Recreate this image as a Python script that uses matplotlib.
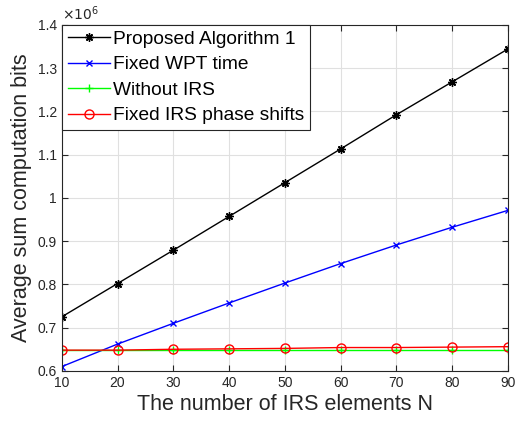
import matplotlib.pyplot as plt
from matplotlib.ticker import FuncFormatter

plt.rcParams['font.family'] = ['Liberation Sans', 'DejaVu Sans']

# numero de elementos IRS
n_irs = [10, 20, 30, 40, 50, 60, 70, 80, 90]

# bits medios (x 10^6)
proposto = [0.725, 0.802, 0.879, 0.957, 1.035, 1.113, 1.192, 1.268, 1.344]
wpt_fixo = [0.610, 0.662, 0.710, 0.757, 0.803, 0.848, 0.891, 0.932, 0.971]
sem_irs = [0.648, 0.648, 0.648, 0.648, 0.648, 0.648, 0.648, 0.648, 0.648]
fase_fixa = [0.648, 0.648, 0.650, 0.651, 0.652, 0.654, 0.654, 0.655, 0.656]

yticks = [0.6, 0.7, 0.8, 0.9, 1.0, 1.1, 1.2, 1.3, 1.4]

fig = plt.figure(figsize=(5.15, 4.21), dpi=100)
ax = fig.add_axes([0.120, 0.119, 0.866, 0.822])

ax.plot(n_irs, proposto, color='black', marker=(8, 2, 0), markersize=6, mew=1.0, lw=1, label='Proposed Algorithm 1')
ax.plot(n_irs, wpt_fixo, color='blue', marker='x', markersize=5, lw=1, label='Fixed WPT time')
ax.plot(n_irs, sem_irs, color='#00ff00', marker='+', markersize=6, lw=1, label='Without IRS')
ax.plot(n_irs, fase_fixa, color='red', marker='o', markersize=6.5, mfc='none', lw=1, label='Fixed IRS phase shifts')

ax.set_xlim(10, 90)
ax.set_ylim(0.6, 1.4)
ax.set_xticks(n_irs)
ax.set_yticks(yticks)
ax.yaxis.set_major_formatter(FuncFormatter(lambda v, p: f'{v:g}'))
ax.grid(True, color='#e0e0e0', lw=0.8)
ax.set_axisbelow(True)
ax.tick_params(direction='in', labelsize=10, colors='#262626', length=4, top=True, right=True)
for s in ax.spines.values():
    s.set_color('#262626')
    s.set_linewidth(0.8)

ax.set_xlabel('The number of IRS elements N', fontsize=15.5, color='#262626', labelpad=3)
ax.set_ylabel('Average sum computation bits', fontsize=15.5, color='#262626', labelpad=4)
ax.text(0, 1.005, r'$\times10^{6}$', transform=ax.transAxes, fontsize=10, color='#262626', va='bottom')

leg = ax.legend(loc='upper left', fontsize=13.8, handlelength=2.2, handletextpad=0.15,
                borderpad=0.3, labelspacing=0.42, borderaxespad=0, fancybox=False,
                framealpha=1, edgecolor='#262626')
leg.get_frame().set_linewidth(0.8)

plt.savefig('out.png', dpi=100)
